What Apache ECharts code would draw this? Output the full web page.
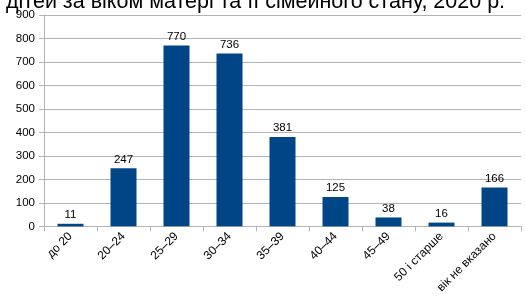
<!DOCTYPE html>
<html>
<head>
<meta charset="utf-8">
<script src="https://cdn.jsdelivr.net/npm/echarts@6/dist/echarts.min.js"></script>
<style>
  html, body { margin: 0; padding: 0; background: #fff; }
  #chart { width: 526px; height: 296px; }
</style>
</head>
<body>
<div id="chart"></div>
<script>
// вікові групи матері
const categories = ['до 20', '20–24', '25–29', '30–34', '35–39', '40–44', '45–49', '50 і старше', 'вік не вказано'];
const births = [11, 247, 770, 736, 381, 125, 38, 16, 166];
const yTicks = { min: 0, max: 900, interval: 100 };

const chart = echarts.init(document.getElementById('chart'));

const option = {
  animation: false,
  backgroundColor: '#fff',
  title: {
    text: 'дітей за віком матері та її сімейного стану, 2020 р.',
    left: 1,
    top: -14,
    textStyle: { fontFamily: 'Liberation Sans', fontSize: 21.5, fontWeight: 'normal', color: '#000' }
  },
  grid: { left: 44, right: 5, top: 15, bottom: 69 },
  xAxis: {
    type: 'category',
    data: categories,
    axisLine: { lineStyle: { color: '#b3b3b3' } },
    axisTick: { show: true, alignWithLabel: false, length: 5, lineStyle: { color: '#b3b3b3' } },
    axisLabel: {
      rotate: 45, interval: 0, margin: 8,
      fontFamily: 'Liberation Sans', fontSize: 12, color: '#000'
    }
  },
  yAxis: {
    type: 'value',
    min: yTicks.min, max: yTicks.max, interval: yTicks.interval,
    axisLine: { show: true, lineStyle: { color: '#b3b3b3' } },
    axisTick: { show: true, length: 5, lineStyle: { color: '#b3b3b3' } },
    splitLine: { lineStyle: { color: '#b3b3b3' } },
    axisLabel: { margin: 9, fontFamily: 'Liberation Sans', fontSize: 11.5, color: '#000' }
  },
  series: [{
    type: 'bar',
    data: births,
    barWidth: 26,
    itemStyle: { color: '#004586' },
    label: {
      show: true, position: 'top', distance: 3,
      fontFamily: 'Liberation Sans', fontSize: 11.5, color: '#000'
    }
  }]
};

chart.setOption(option);
</script>
</body>
</html>
